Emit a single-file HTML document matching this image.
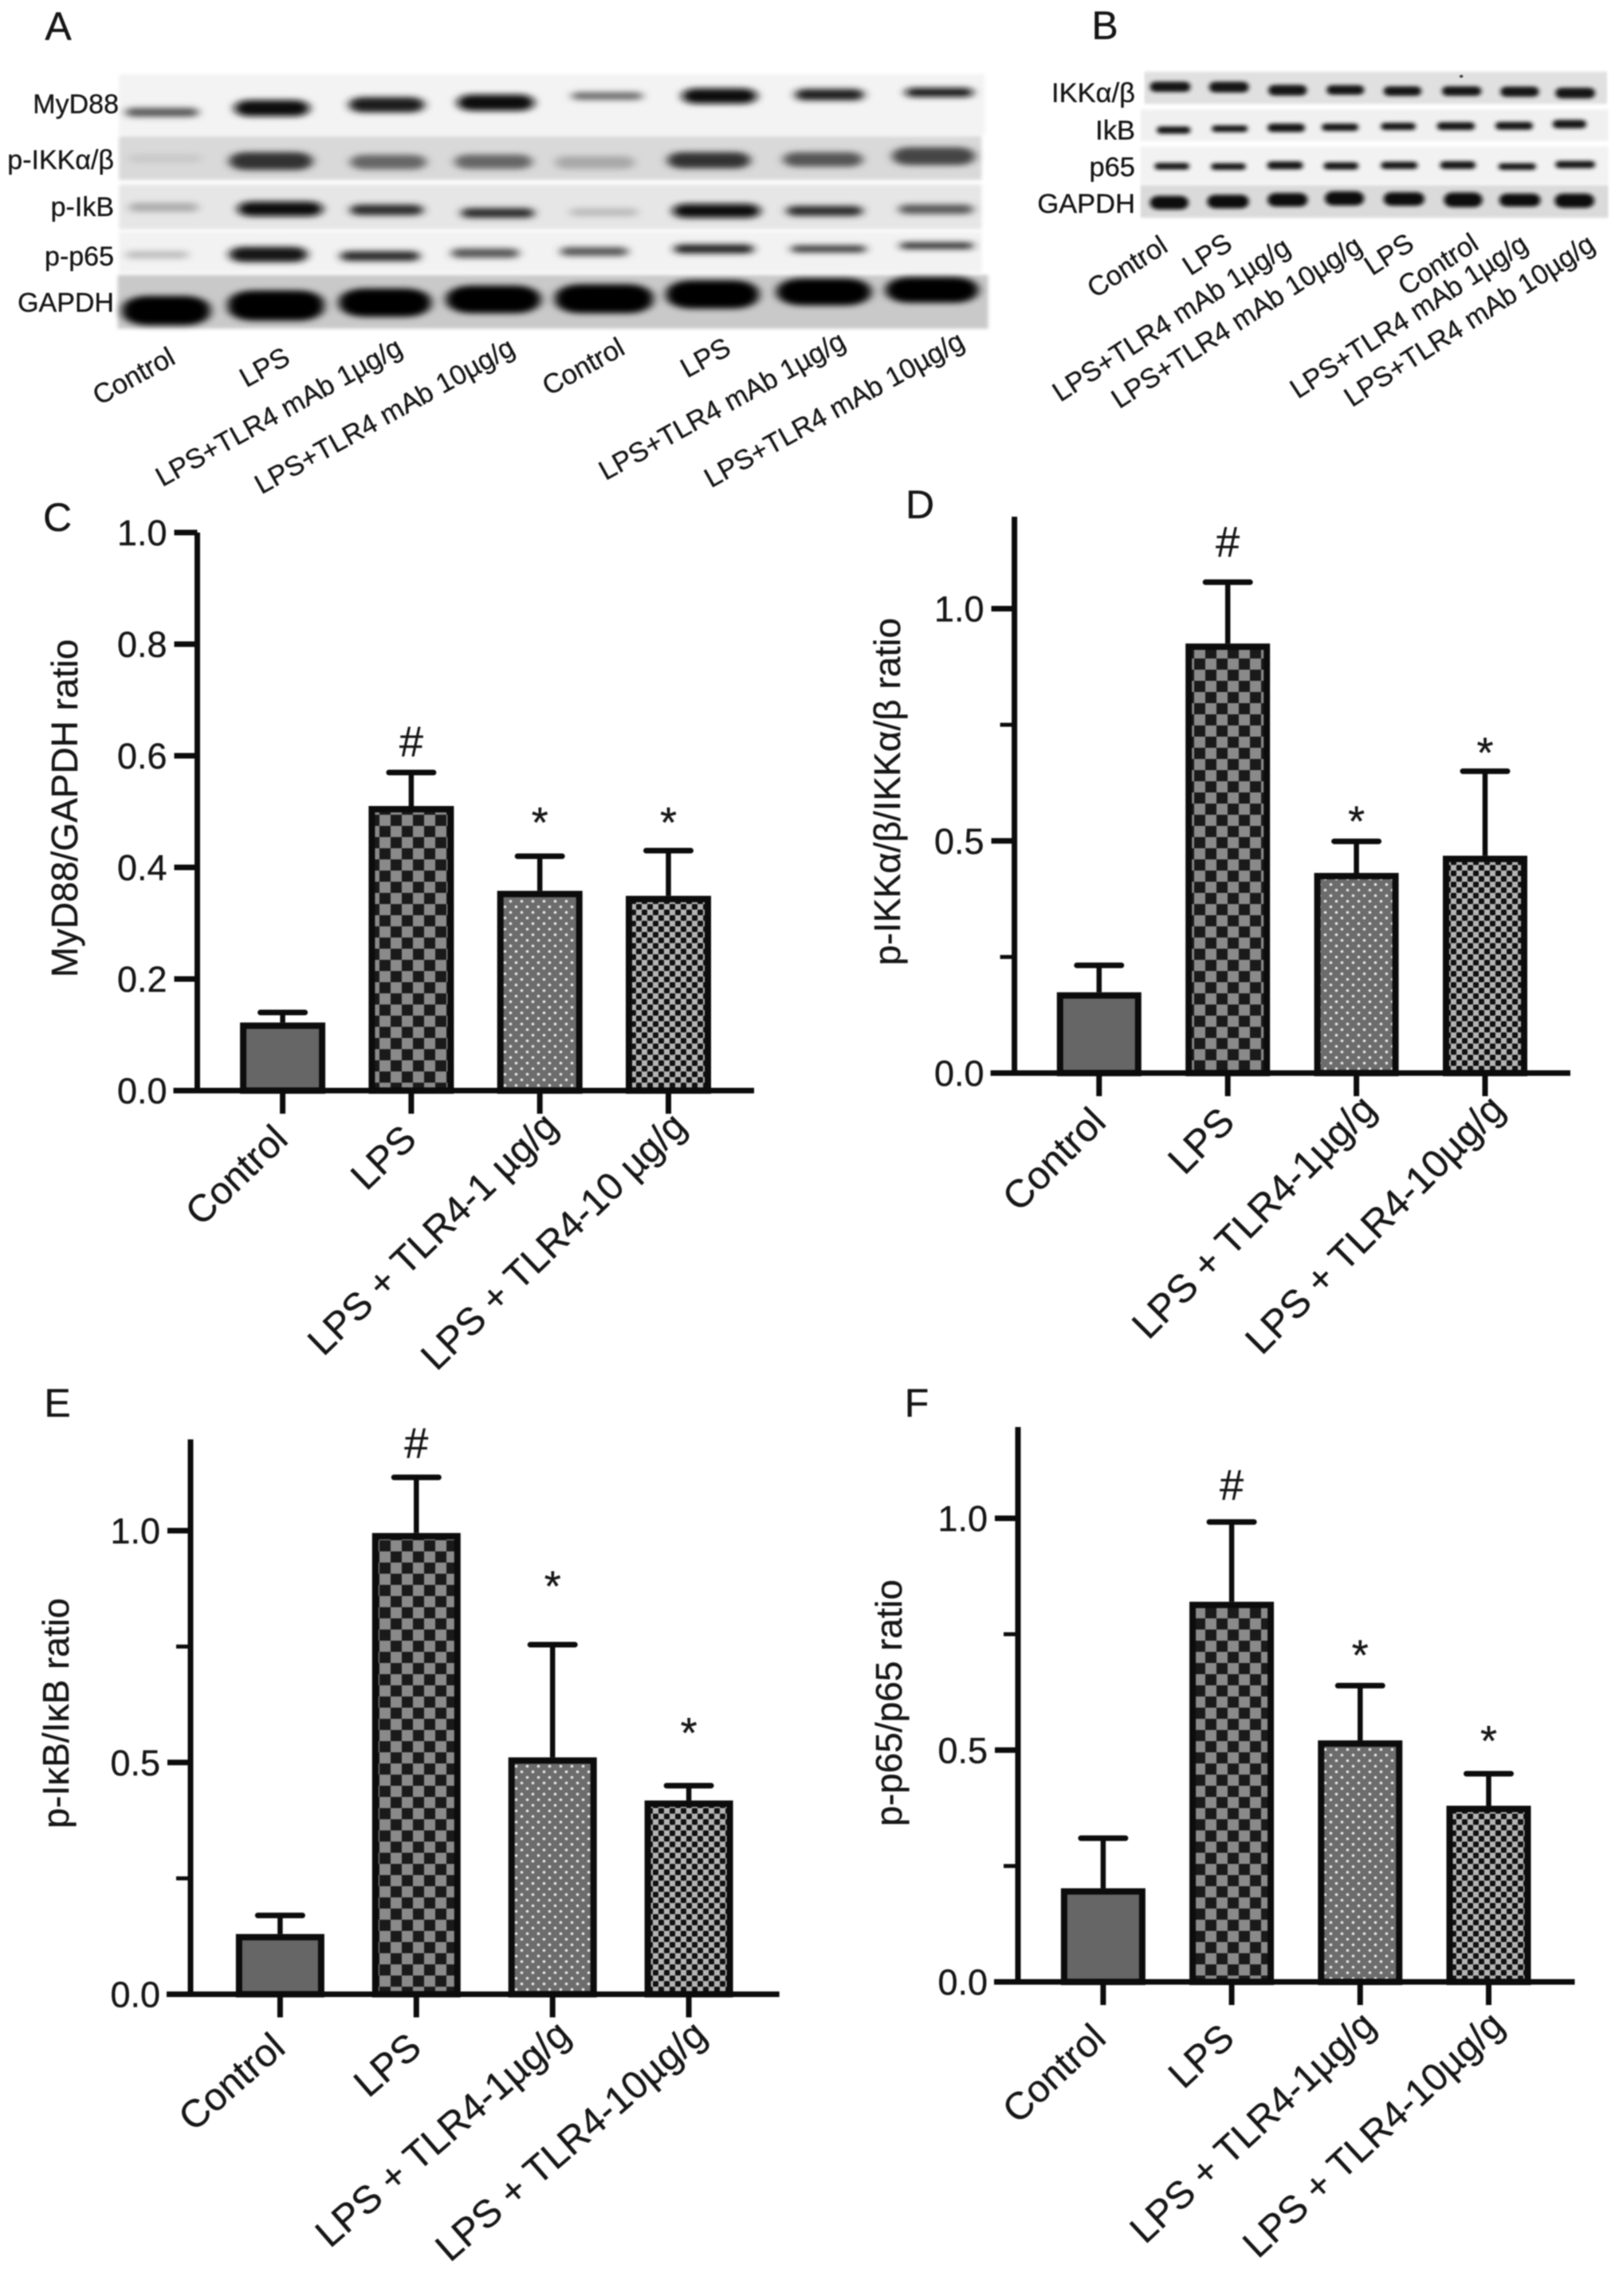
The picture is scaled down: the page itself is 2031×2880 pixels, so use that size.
<!DOCTYPE html>
<html lang="en">
<head>
<meta charset="utf-8">
<title>Western blots and bar charts, panels A to F</title>
<style>
html,body{margin:0;padding:0;background:#fff;}
body{width:2031px;height:2880px;overflow:hidden;}
svg{display:block;filter:blur(0.7px);}
text{font-family:"Liberation Sans",sans-serif;fill:#161616;stroke:#161616;stroke-width:0.35px;}
</style>
</head>
<body>
<svg id="fig" xmlns="http://www.w3.org/2000/svg" width="2031" height="2880" viewBox="0 0 2031 2880">
<defs>
<pattern id="pat-check" patternUnits="userSpaceOnUse" width="28" height="28"><rect width="28" height="28" fill="#8a8a8a"/><rect x="0" y="0" width="14" height="14" fill="#1a1a1a"/><rect x="14" y="14" width="14" height="14" fill="#1a1a1a"/></pattern>
<pattern id="pat-dots" patternUnits="userSpaceOnUse" width="14" height="14"><rect width="14" height="14" fill="#6c6c6c"/><circle cx="3.5" cy="3.5" r="1.8" fill="#e8e8e8"/><circle cx="10.5" cy="10.5" r="1.8" fill="#e8e8e8"/></pattern>
<pattern id="pat-fine" patternUnits="userSpaceOnUse" width="14" height="14"><rect width="14" height="14" fill="#b4b4b4"/><rect x="0" y="0" width="7" height="7" rx="1.2" fill="#111"/><rect x="7" y="7" width="7" height="7" rx="1.2" fill="#111"/></pattern>
<filter id="blur-a" x="-5%" y="-60%" width="110%" height="220%"><feMorphology operator="dilate" radius="0 3"/><feGaussianBlur stdDeviation="7 9"/></filter>
<filter id="blur-b" x="-5%" y="-60%" width="110%" height="220%"><feMorphology operator="dilate" radius="0 3"/><feGaussianBlur stdDeviation="6 7"/></filter>
<filter id="blur-strip" x="-3%" y="-30%" width="106%" height="160%"><feGaussianBlur stdDeviation="3 5"/></filter>
</defs>
<rect width="2031" height="2880" fill="#fff"/>

<text x="73" y="50" font-size="50" text-anchor="middle">A</text>
<text x="1386" y="49" font-size="50" text-anchor="middle">B</text>
<text x="72" y="666" font-size="50" text-anchor="middle">C</text>
<text x="1154" y="650" font-size="50" text-anchor="middle">D</text>
<text x="72" y="1777" font-size="50" text-anchor="middle">E</text>
<text x="1150" y="1777" font-size="50" text-anchor="middle">F</text>

<!-- Panel A blot -->
<g transform="scale(0.8292,0.4082)">
<rect x="180" y="228" width="1310" height="187" fill="#f3f3f3" filter="url(#blur-strip)"/>
<rect x="180" y="418" width="1305" height="135" fill="#d9d9d9" filter="url(#blur-strip)"/>
<rect x="180" y="567" width="1305" height="138" fill="#e6e6e6" filter="url(#blur-strip)"/>
<rect x="180" y="712" width="1305" height="126" fill="#f2f2f2" filter="url(#blur-strip)"/>
<rect x="178" y="845" width="1317" height="165" fill="#c9c9c9" filter="url(#blur-strip)"/>
<g filter="url(#blur-a)">
<rect x="190" y="334" width="110" height="22" rx="11" fill="#555"/>
<rect x="355" y="310" width="113" height="45" rx="22" fill="#0c0c0c"/>
<rect x="528" y="301" width="114" height="42" rx="21" fill="#1a1a1a"/>
<rect x="692" y="293" width="116" height="45" rx="22" fill="#111"/>
<rect x="865" y="286" width="107" height="18" rx="9" fill="#666"/>
<rect x="1032" y="274" width="113" height="42" rx="21" fill="#0c0c0c"/>
<rect x="1203" y="276" width="104" height="30" rx="15" fill="#1a1a1a"/>
<rect x="1370" y="273" width="102" height="22" rx="11" fill="#111"/>
</g>
<g filter="url(#blur-a)">
<rect x="195" y="477" width="110" height="20" rx="10" fill="#c8c8c8"/>
<rect x="347" y="470" width="126" height="50" rx="25" fill="#333"/>
<rect x="530" y="478" width="115" height="40" rx="20" fill="#666"/>
<rect x="688" y="477" width="117" height="40" rx="20" fill="#666"/>
<rect x="840" y="482" width="120" height="35" rx="17" fill="#a8a8a8"/>
<rect x="1010" y="470" width="125" height="45" rx="22" fill="#333"/>
<rect x="1185" y="470" width="120" height="40" rx="20" fill="#555"/>
<rect x="1350" y="455" width="125" height="50" rx="25" fill="#444"/>
</g>
<g filter="url(#blur-a)">
<rect x="195" y="626" width="105" height="22" rx="11" fill="#aaa"/>
<rect x="360" y="622" width="128" height="40" rx="20" fill="#080808"/>
<rect x="530" y="631" width="110" height="28" rx="14" fill="#2c2c2c"/>
<rect x="698" y="642" width="110" height="25" rx="12" fill="#2c2c2c"/>
<rect x="862" y="642" width="103" height="20" rx="10" fill="#bbb"/>
<rect x="1018" y="629" width="132" height="38" rx="19" fill="#080808"/>
<rect x="1190" y="635" width="115" height="26" rx="13" fill="#2c2c2c"/>
<rect x="1360" y="631" width="112" height="24" rx="12" fill="#555"/>
</g>
<g filter="url(#blur-a)">
<rect x="190" y="774" width="95" height="18" rx="9" fill="#bbb"/>
<rect x="347" y="761" width="118" height="42" rx="21" fill="#141414"/>
<rect x="515" y="774" width="120" height="26" rx="13" fill="#2c2c2c"/>
<rect x="683" y="766" width="102" height="24" rx="12" fill="#555"/>
<rect x="848" y="762" width="102" height="22" rx="11" fill="#555"/>
<rect x="1020" y="754" width="120" height="22" rx="11" fill="#1c1c1c"/>
<rect x="1197" y="757" width="113" height="16" rx="8" fill="#333"/>
<rect x="1362" y="748" width="110" height="14" rx="7" fill="#1c1c1c"/>
</g>
<g filter="url(#blur-a)">
<rect x="185" y="912" width="133" height="85" rx="38" fill="#050505"/>
<rect x="345" y="895" width="145" height="88" rx="38" fill="#050505"/>
<rect x="513" y="889" width="139" height="82" rx="38" fill="#050505"/>
<rect x="675" y="880" width="143" height="80" rx="38" fill="#050505"/>
<rect x="840" y="876" width="148" height="84" rx="38" fill="#050505"/>
<rect x="1008" y="864" width="140" height="82" rx="38" fill="#050505"/>
<rect x="1175" y="858" width="143" height="78" rx="38" fill="#050505"/>
<rect x="1340" y="854" width="140" height="74" rx="36" fill="#050505"/>
</g>
</g>
<g font-size="34" text-anchor="end">
<text x="149" y="142">MyD88</text>
<text x="143" y="212">p-IKKα/β</text>
<text x="143" y="271">p-IkB</text>
<text x="143" y="333">p-p65</text>
<text x="143" y="391">GAPDH</text>
</g>
<g font-size="34.5" text-anchor="end">
<text transform="translate(222,455) rotate(-29)">Control</text>
<text transform="translate(366,455) rotate(-29)">LPS</text>
<text transform="translate(507,443) rotate(-29)">LPS+TLR4 mAb 1µg/g</text>
<text transform="translate(648,443) rotate(-29)">LPS+TLR4 mAb 10µg/g</text>
<text transform="translate(786,443) rotate(-29)">Control</text>
<text transform="translate(919,443) rotate(-29)">LPS</text>
<text transform="translate(1063,435) rotate(-29)">LPS+TLR4 mAb 1µg/g</text>
<text transform="translate(1212,435) rotate(-29)">LPS+TLR4 mAb 10µg/g</text>
</g>

<!-- Panel B blot -->
<g transform="translate(1280,0) scale(0.4789,0.3571)">
<rect x="325" y="252" width="1212" height="113" fill="#e0e0e0" filter="url(#blur-strip)"/>
<rect x="315" y="385" width="1225" height="110" fill="#f0f0f0" filter="url(#blur-strip)"/>
<rect x="315" y="515" width="1225" height="130" fill="#f2f2f2" filter="url(#blur-strip)"/>
<rect x="315" y="650" width="1225" height="115" fill="#dadada" filter="url(#blur-strip)"/>
<circle cx="1155" cy="268" r="5" fill="#444"/>
<g filter="url(#blur-b)">
<rect x="340" y="290" width="105" height="30" rx="15" fill="#141414"/>
<rect x="495" y="290" width="103" height="32" rx="16" fill="#141414"/>
<rect x="650" y="301" width="100" height="32" rx="16" fill="#141414"/>
<rect x="803" y="302" width="97" height="28" rx="14" fill="#141414"/>
<rect x="952" y="306" width="98" height="28" rx="14" fill="#141414"/>
<rect x="1105" y="306" width="102" height="28" rx="14" fill="#141414"/>
<rect x="1258" y="307" width="100" height="30" rx="15" fill="#141414"/>
<rect x="1402" y="311" width="103" height="32" rx="16" fill="#141414"/>
</g>
<g filter="url(#blur-b)">
<rect x="358" y="447" width="87" height="20" rx="10" fill="#141414"/>
<rect x="502" y="443" width="93" height="18" rx="9" fill="#141414"/>
<rect x="648" y="437" width="97" height="24" rx="12" fill="#141414"/>
<rect x="790" y="437" width="95" height="20" rx="10" fill="#141414"/>
<rect x="945" y="434" width="90" height="20" rx="10" fill="#141414"/>
<rect x="1092" y="432" width="98" height="22" rx="11" fill="#141414"/>
<rect x="1245" y="431" width="97" height="22" rx="11" fill="#141414"/>
<rect x="1395" y="424" width="87" height="24" rx="12" fill="#141414"/>
</g>
<g filter="url(#blur-b)">
<rect x="352" y="575" width="90" height="18" rx="9" fill="#141414"/>
<rect x="500" y="576" width="90" height="18" rx="9" fill="#141414"/>
<rect x="647" y="570" width="93" height="22" rx="11" fill="#141414"/>
<rect x="795" y="573" width="90" height="20" rx="10" fill="#141414"/>
<rect x="945" y="571" width="95" height="20" rx="10" fill="#141414"/>
<rect x="1100" y="569" width="92" height="22" rx="11" fill="#141414"/>
<rect x="1253" y="576" width="97" height="18" rx="9" fill="#141414"/>
<rect x="1402" y="568" width="103" height="20" rx="10" fill="#141414"/>
</g>
<g filter="url(#blur-b)">
<rect x="340" y="691" width="100" height="42" rx="21" fill="#0a0a0a"/>
<rect x="490" y="687" width="108" height="42" rx="21" fill="#0a0a0a"/>
<rect x="648" y="681" width="104" height="42" rx="21" fill="#0a0a0a"/>
<rect x="798" y="675" width="102" height="44" rx="22" fill="#0a0a0a"/>
<rect x="952" y="678" width="106" height="42" rx="21" fill="#0a0a0a"/>
<rect x="1110" y="679" width="100" height="46" rx="23" fill="#0a0a0a"/>
<rect x="1255" y="683" width="107" height="40" rx="20" fill="#0a0a0a"/>
<rect x="1400" y="683" width="103" height="44" rx="22" fill="#0a0a0a"/>
</g>
</g>
<g font-size="34.5" text-anchor="end">
<text x="1424" y="128">IKKα/β</text>
<text x="1424" y="175">IkB</text>
<text x="1424" y="221">p65</text>
<text x="1424" y="267">GAPDH</text>
</g>
<g font-size="34.5" text-anchor="end">
<text transform="translate(1467,314) rotate(-33)">Control</text>
<text transform="translate(1548,311) rotate(-33)">LPS</text>
<text transform="translate(1621,316) rotate(-33)">LPS+TLR4 mAb 1µg/g</text>
<text transform="translate(1711,314) rotate(-33)">LPS+TLR4 mAb 10µg/g</text>
<text transform="translate(1776,311) rotate(-33)">LPS</text>
<text transform="translate(1857,311) rotate(-33)">Control</text>
<text transform="translate(1919,312) rotate(-33)">LPS+TLR4 mAb 1µg/g</text>
<text transform="translate(2003,312) rotate(-33)">LPS+TLR4 mAb 10µg/g</text>
</g>
</svg>

<script>
// ---- chart data ----
const cCategories = ['Control', 'LPS', 'LPS + TLR4-1 µg/g', 'LPS + TLR4-10 µg/g'];
const cValues = [0.122, 0.51, 0.358, 0.349];
const cErrorTops = [0.14, 0.57, 0.42, 0.43];
const cMarks = ['', '#', '*', '*'];
const cMarkLevels = [0, 0.626, 0.493, 0.493];
const cTickLabels = ['0.0', '0.2', '0.4', '0.6', '0.8', '1.0'];
const cMinorTicks = [];

const dCategories = ['Control', 'LPS', 'LPS + TLR4-1µg/g', 'LPS + TLR4-10µg/g'];
const dValues = [0.174, 0.925, 0.431, 0.468];
const dErrorTops = [0.232, 1.057, 0.499, 0.65];
const dMarks = ['', '#', '*', '*'];
const dMarkLevels = [0, 1.145, 0.557, 0.705];
const dTickLabels = ['0.0', '0.5', '1.0'];
const dMinorTicks = [0.25, 0.75];

const eCategories = ['Control', 'LPS', 'LPS + TLR4-1µg/g', 'LPS + TLR4-10µg/g'];
const eValues = [0.13, 0.995, 0.511, 0.418];
const eErrorTops = [0.17, 1.115, 0.754, 0.45];
const eMarks = ['', '#', '*', '*'];
const eMarkLevels = [0, 1.19, 0.895, 0.579];
const eTickLabels = ['0.0', '0.5', '1.0'];
const eMinorTicks = [0.25, 0.75];

const fCategories = ['Control', 'LPS', 'LPS + TLR4-1µg/g', 'LPS + TLR4-10µg/g'];
const fValues = [0.202, 0.82, 0.521, 0.38];
const fErrorTops = [0.31, 0.992, 0.639, 0.449];
const fMarks = ['', '#', '*', '*'];
const fMarkLevels = [0, 1.073, 0.72, 0.535];
const fTickLabels = ['0.0', '0.5', '1.0'];
const fMinorTicks = [0.25, 0.75];

const barFills = ['#666666', 'url(#pat-check)', 'url(#pat-dots)', 'url(#pat-fine)'];

// ---- layout of each chart frame ----
const frames = {
  c: {name:'c', title:'MyD88/GAPDH ratio', cats:cCategories, vals:cValues, errs:cErrorTops, marks:cMarks, levels:cMarkLevels, ticks:cTickLabels, minor:cMinorTicks,
      axisX:247.5, zeroY:1368, unit:700, yMax:1.0, xEnd:946, firstX:354.6, stepX:161.3, barW:107, titleX:97, titleY:1014, labelDx:9, labelDy:64, labelFont:48, labelAngle:44},
  d: {name:'d', title:'p-IKKα/β/IKKα/β ratio', cats:dCategories, vals:dValues, errs:dErrorTops, marks:dMarks, levels:dMarkLevels, ticks:dTickLabels, minor:dMinorTicks,
      axisX:1272.6, zeroY:1346, unit:582.5, yMax:1.198, xEnd:1970, firstX:1378.8, stepX:161.4, barW:106, titleX:1129, titleY:993, labelDx:11, labelDy:64, labelFont:49, labelAngle:45},
  e: {name:'e', title:'p-IκB/IκB ratio', cats:eCategories, vals:eValues, errs:eErrorTops, marks:eMarks, levels:eMarkLevels, ticks:eTickLabels, minor:eMinorTicks,
      axisX:239, zeroY:2501.5, unit:581.5, yMax:1.197, xEnd:977.7, firstX:351.4, stepX:170.9, barW:111, titleX:86, titleY:2149, labelDx:9, labelDy:71, labelFont:48.5, labelAngle:41},
  f: {name:'f', title:'p-p65/p65 ratio', cats:fCategories, vals:fValues, errs:fErrorTops, marks:fMarks, levels:fMarkLevels, ticks:fTickLabels, minor:fMinorTicks,
      axisX:1277, zeroY:2486, unit:581.5, yMax:1.197, xEnd:1975.5, firstX:1383.9, stepX:161.2, barW:106, titleX:1131, titleY:2136, labelDx:6, labelDy:74, labelFont:48, labelAngle:43}
};
const labelShift = [0, 0, 16, 16];

const NS = 'http://www.w3.org/2000/svg';
const fig = document.getElementById('fig');

function make(parent, tag, attrs) {
  const node = document.createElementNS(NS, tag);
  for (const k in attrs) node.setAttribute(k, attrs[k]);
  parent.appendChild(node);
  return node;
}

function drawChart(p) {
  const yScale = v => p.zeroY - v * p.unit;
  const xScale = i => p.firstX + i * p.stepX;
  const lw = 7, sw = 8;

  const g = make(fig, 'g', {});
  
  

  // bars, drawn first so the axes sit on top
  p.vals.forEach((v, i) => {
    const bar = make(g, 'rect', {
      x: xScale(i) - p.barW / 2 + sw / 2,
      y: yScale(v) + sw / 2,
      width: p.barW - sw,
      height: Math.max(0, yScale(0) - yScale(v) - sw / 2),
      fill: barFills[i], stroke: '#0c0c0c', 'stroke-width': sw
    });
    
    

    const stem = make(g, 'line', {
      x1: xScale(i), x2: xScale(i), y1: yScale(v), y2: yScale(p.errs[i]),
      stroke: '#0c0c0c', 'stroke-width': 6.5
    });
    
    

    const cap = make(g, 'line', {
      x1: xScale(i) - 28, x2: xScale(i) + 28, y1: yScale(p.errs[i]), y2: yScale(p.errs[i]),
      stroke: '#0c0c0c', 'stroke-width': 7, 'stroke-linecap': 'round'
    });
    
    

    if (p.marks[i]) {
      const isHash = p.marks[i] === '#';
      const size = 54;
      const mark = make(g, 'text', {
        x: xScale(i),
        y: yScale(p.levels[i]) + (isHash ? 0.35 : 0.5) * size,
        'font-size': size, 'text-anchor': 'middle'
      });
      mark.textContent = p.marks[i];
      
      
    }

    const tick = make(g, 'line', {
      x1: xScale(i), x2: xScale(i), y1: yScale(0), y2: yScale(0) + 29,
      stroke: '#0c0c0c', 'stroke-width': lw
    });
    
    

    const s = labelShift[i];
    const ax = xScale(i) + p.labelDx + s;
    const ay = yScale(0) + p.labelDy - s;
    const label = make(g, 'text', {
      transform: 'translate(' + ax + ',' + ay + ') rotate(' + (-p.labelAngle) + ')',
      'font-size': p.labelFont, 'text-anchor': 'end'
    });
    label.textContent = p.cats[i];
    
    
  });

  // axes
  const yAxis = make(g, 'line', {
    x1: p.axisX, x2: p.axisX, y1: yScale(p.yMax), y2: yScale(0) + lw / 2,
    stroke: '#0c0c0c', 'stroke-width': lw
  });
  
  

  const xAxis = make(g, 'line', {
    x1: p.axisX - 30, x2: p.xEnd, y1: yScale(0), y2: yScale(0),
    stroke: '#0c0c0c', 'stroke-width': lw
  });
  
  

  p.ticks.forEach(t => {
    const v = parseFloat(t);
    const tick = make(g, 'line', {
      x1: p.axisX - 29, x2: p.axisX, y1: yScale(v), y2: yScale(v),
      stroke: '#0c0c0c', 'stroke-width': lw
    });
    
    

    const label = make(g, 'text', {
      x: p.axisX - 38, y: yScale(v) + 16,
      'font-size': 45, 'text-anchor': 'end'
    });
    label.textContent = t;
    
    
  });

  p.minor.forEach(v => {
    const tick = make(g, 'line', {
      x1: p.axisX - 18, x2: p.axisX, y1: yScale(v), y2: yScale(v),
      stroke: '#0c0c0c', 'stroke-width': 5
    });
    
    
  });

  const title = make(g, 'text', {
    transform: 'translate(' + p.titleX + ',' + p.titleY + ') rotate(-90)',
    'font-size': 46, 'text-anchor': 'middle'
  });
  title.textContent = p.title;
  
  
}

drawChart(frames.c);
drawChart(frames.d);
drawChart(frames.e);
drawChart(frames.f);
</script>
</body>
</html>
